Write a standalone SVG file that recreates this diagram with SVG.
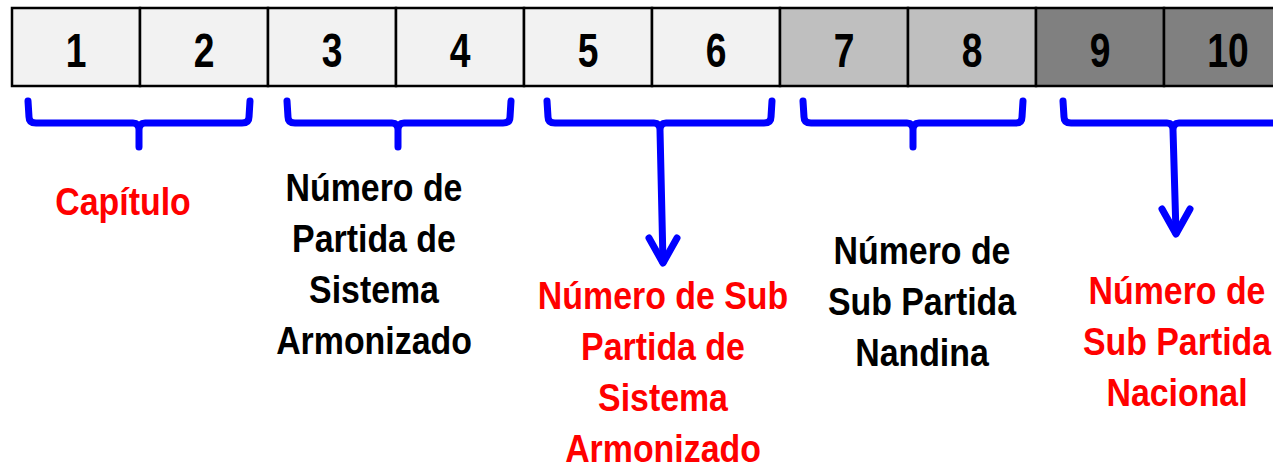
<svg xmlns="http://www.w3.org/2000/svg" width="1273" height="464" viewBox="0 0 1273 464">
<style>
.cell{stroke:#000;stroke-width:2.5}
.c1{fill:#f2f2f2}.c2{fill:#bfbfbf}.c3{fill:#808080}
.dig{font-family:"Liberation Sans",Arial,sans-serif;font-weight:bold;font-size:49px;fill:#000;text-anchor:middle}
.lbl{font-family:"Liberation Sans",Arial,sans-serif;font-weight:bold;font-size:38.5px;text-anchor:middle}
.red{fill:#ff0000}.blk{fill:#000}
.br{fill:none;stroke:#0000ff;stroke-width:7;stroke-linecap:round;stroke-linejoin:round}
</style>
<rect width="1273" height="464" fill="#fff"/>
<g id="cells">
<g id="cell1"><rect class="cell c1" x="12" y="8" width="128" height="78"/><text class="dig" transform="translate(76,67) scale(0.76,1)">1</text></g>
<g id="cell2"><rect class="cell c1" x="140" y="8" width="128" height="78"/><text class="dig" transform="translate(204,67) scale(0.76,1)">2</text></g>
<g id="cell3"><rect class="cell c1" x="268" y="8" width="128" height="78"/><text class="dig" transform="translate(332,67) scale(0.76,1)">3</text></g>
<g id="cell4"><rect class="cell c1" x="396" y="8" width="128" height="78"/><text class="dig" transform="translate(460,67) scale(0.76,1)">4</text></g>
<g id="cell5"><rect class="cell c1" x="524" y="8" width="128" height="78"/><text class="dig" transform="translate(588,67) scale(0.76,1)">5</text></g>
<g id="cell6"><rect class="cell c1" x="652" y="8" width="128" height="78"/><text class="dig" transform="translate(716,67) scale(0.76,1)">6</text></g>
<g id="cell7"><rect class="cell c2" x="780" y="8" width="128" height="78"/><text class="dig" transform="translate(844,67) scale(0.76,1)">7</text></g>
<g id="cell8"><rect class="cell c2" x="908" y="8" width="128" height="78"/><text class="dig" transform="translate(972,67) scale(0.76,1)">8</text></g>
<g id="cell9"><rect class="cell c3" x="1036" y="8" width="128" height="78"/><text class="dig" transform="translate(1100,67) scale(0.76,1)">9</text></g>
<g id="cell10"><rect class="cell c3" x="1164" y="8" width="128" height="78"/><text class="dig" transform="translate(1228,67) scale(0.76,1)">10</text></g>
</g>
<g id="connectors">
<path class="br" d="M28,101 L29,117 Q29,123 36,123 L133,123 Q139,123 139,130 L139,147 M139,130 Q139,123 145,123 L242,123 Q249,123 249,117 L250,101"/>
<path class="br" d="M287,101 L288,117 Q288,123 295,123 L392,123 Q398,123 398,130 L398,147 M398,130 Q398,123 404,123 L503,123 Q510,123 510,117 L511,101"/>
<path class="br" d="M547,101 L548,117 Q548,123 555,123 L654,123 Q660,123 660,130 L663,262 M660,130 Q660,123 666,123 L764,123 Q771,123 771,117 L772,101"/>
<path class="br" d="M649,238 L663,263 L677,238"/>
<path class="br" d="M803,101 L804,117 Q804,123 811,123 L907,123 Q913,123 913,130 L913,147 M913,130 Q913,123 919,123 L1016,123 Q1022,123 1022,117 L1023,101"/>
<path class="br" d="M1063,101 L1064,117 Q1064,123 1071,123 L1167,123 Q1173,123 1173,130 L1176,233 M1173,130 Q1173,123 1179,123 L1280,123"/>
<path class="br" d="M1162,209 L1176,234 L1190,209"/>
</g>
<g id="label-capitulo" transform="translate(123,0) scale(0.88,1)"><text class="lbl red" x="0" y="215">Capítulo</text></g>
<g id="label-partida-sa" transform="translate(374,0) scale(0.88,1)"><text class="lbl blk" x="0" y="201">Número de</text><text class="lbl blk" x="0" y="252">Partida de</text><text class="lbl blk" x="0" y="303">Sistema</text><text class="lbl blk" x="0" y="354">Armonizado</text></g>
<g id="label-subpartida-sa" transform="translate(663,0) scale(0.88,1)"><text class="lbl red" x="0" y="309">Número de Sub</text><text class="lbl red" x="0" y="360">Partida de</text><text class="lbl red" x="0" y="411">Sistema</text><text class="lbl red" x="0" y="462">Armonizado</text></g>
<g id="label-nandina" transform="translate(922,0) scale(0.88,1)"><text class="lbl blk" x="0" y="264">Número de</text><text class="lbl blk" x="0" y="315">Sub Partida</text><text class="lbl blk" x="0" y="366">Nandina</text></g>
<g id="label-nacional" transform="translate(1177,0) scale(0.88,1)"><text class="lbl red" x="0" y="304">Número de</text><text class="lbl red" x="0" y="355">Sub Partida</text><text class="lbl red" x="0" y="406">Nacional</text></g>
</svg>
